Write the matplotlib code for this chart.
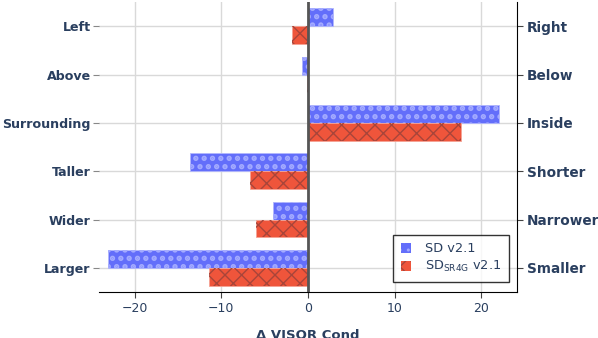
import numpy as np
import matplotlib
matplotlib.use('Agg')
import matplotlib.pyplot as plt
from matplotlib.patches import Patch

# veriler
sol_etiketler = ['Left', 'Above', 'Surrounding', 'Taller', 'Wider', 'Larger']
sag_etiketler = ['Right', 'Below', 'Inside', 'Shorter', 'Narrower', 'Smaller']
sd_v21 = [2.9, -0.7, 22.0, -13.6, -4.0, -23.1]
sd_sr4g = [-1.8, -0.1, 17.7, -6.7, -6.0, -11.4]

MAVI = '#636EFA'
KIRMIZI = '#EF553B'
YAZI = '#2a3f5f'

fig = plt.figure(figsize=(5.98, 3.38), dpi=100)
ax = fig.add_axes([0.1656, 0.1361, 0.6989, 0.8579])

y = np.arange(len(sol_etiketler))
h = 0.367

# dolgu + desen ayrı çiziliyor (desen rengi farklı olsun diye)
ax.barh(y - h / 2, sd_v21, height=h, color=MAVI, edgecolor='#b3b8fd', linewidth=0.6, zorder=3)
plt.rcParams['hatch.linewidth'] = 2.6
ax.barh(y - h / 2, sd_v21, height=h, facecolor='none', edgecolor='#a3aaff', hatch='..', linewidth=0, zorder=4)
plt.rcParams['hatch.linewidth'] = 1.0
ax.barh(y + h / 2, sd_sr4g, height=h, color=KIRMIZI, edgecolor='#f5a394', linewidth=0.6, zorder=3)
ax.barh(y + h / 2, sd_sr4g, height=h, facecolor='none', edgecolor='#a8453a', hatch='xx', linewidth=0, zorder=4)

ax.axvline(0, color='#555555', linewidth=2, zorder=5)

ax.set_xlim(-24.1, 24.1)
ax.set_ylim(5.5, -0.5)
ax.set_xticks([-20, -10, 0, 10, 20])
ax.set_xticklabels(['\u221220', '\u221210', '0', '10', '20'])
ax.set_yticks(y)
ax.set_yticklabels(sol_etiketler, fontweight='bold', fontsize=9.1, color=YAZI)
ax.tick_params(axis='x', colors=YAZI, labelsize=9, length=4, color='#444444')
ax.tick_params(axis='y', length=4, color='#888888', pad=2)
ax.grid(True, color='#d9d9d9', linewidth=1, zorder=0)
ax.set_axisbelow(True)
for s in ['top', 'left', 'right']:
    ax.spines[s].set_visible(False)
ax.spines['bottom'].set_color('black')
ax.set_xlabel('\u0394 VISOR Cond', fontweight='bold', fontsize=9.5, color=YAZI, labelpad=10)

ax2 = ax.twinx()
ax2.set_ylim(ax.get_ylim())
ax2.set_yticks(y)
ax2.set_yticklabels(sag_etiketler, fontweight='bold', fontsize=9.8, color=YAZI)
ax2.tick_params(axis='y', length=4, color='#444444', pad=3)
for s in ['top', 'left', 'bottom']:
    ax2.spines[s].set_visible(False)
ax2.spines['right'].set_color('black')

el = [Patch(facecolor=MAVI, edgecolor='#a3aaff', hatch='..', linewidth=0),
      Patch(facecolor=KIRMIZI, edgecolor='#a8453a', hatch='xx', linewidth=0)]
leg = ax2.legend(el, ['SD v2.1', 'SD$_{\\mathregular{SR4G}}$ v2.1'], loc='lower right',
                 bbox_to_anchor=(0.981, 0.034), fontsize=9.3, frameon=True, fancybox=False,
                 edgecolor='black', handlelength=0.75, handleheight=0.75, borderpad=0.6,
                 labelspacing=0.3, handletextpad=1.1, borderaxespad=0)
leg.get_frame().set_linewidth(1)
for t in leg.get_texts():
    t.set_color(YAZI)

fig.savefig('out.png', dpi=100)
